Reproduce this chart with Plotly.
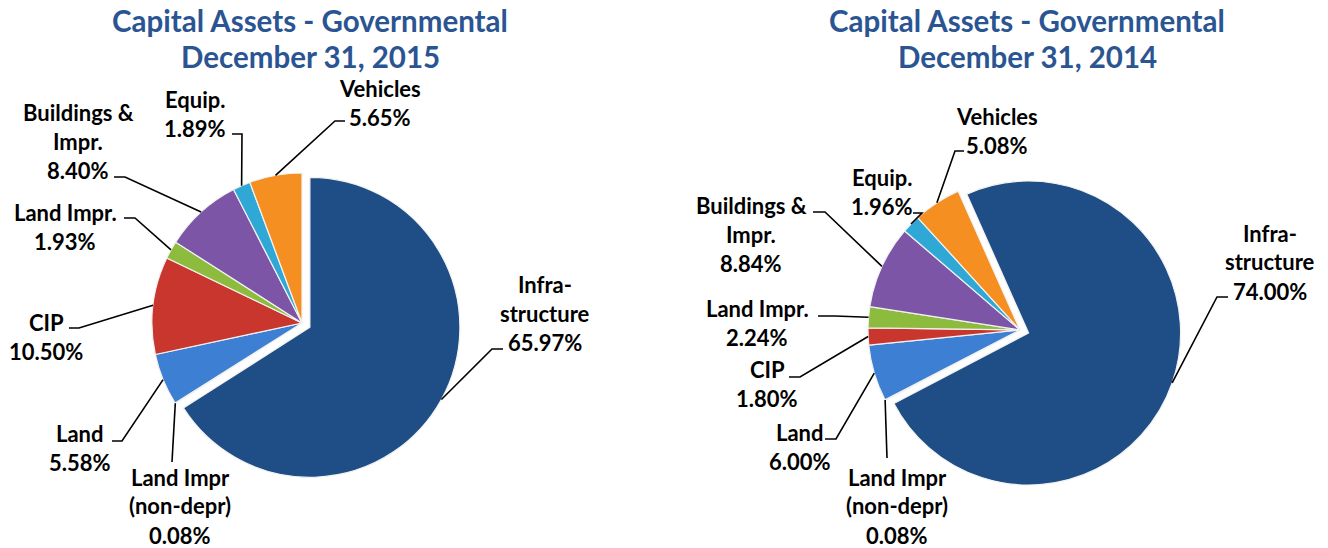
import math
import plotly.graph_objects as go

W, H = 1328, 548
OFF = 8  # page body margin offset (px)

# ---------------- data ----------------
categories = ["Infrastructure", "Land Impr (non-depr)", "Land", "CIP",
              "Land Impr.", "Buildings & Impr.", "Equip.", "Vehicles"]
label_lines = [["Infra-", "structure"], ["Land Impr", "(non-depr)"], ["Land"], ["CIP"],
               ["Land Impr."], ["Buildings &", "Impr."], ["Equip."], ["Vehicles"]]
values_2015 = [65.97, 0.08, 5.58, 10.50, 1.93, 8.40, 1.89, 5.65]
values_2014 = [74.00, 0.08, 6.00, 1.80, 2.24, 8.84, 1.96, 5.08]
titles = [["Capital Assets - Governmental", "December 31, 2015"],
          ["Capital Assets - Governmental", "December 31, 2014"]]

# ---------------- style / layout ----------------
colors = ["#1F4E86", "#B5553C", "#3D7FD3", "#C8362E", "#8DBB3E", "#7C55A7", "#30A8D6", "#F68F22"]
FONT = "Lato, Carlito, Calibri, sans-serif"
TITLE_COLOR = "#2A5592"
TITLE_SIZE = 29.5
LABEL_SIZE = 22
LINE_SP = 29

panels = [
    dict(values=values_2015, title=titles[0], cx=302, cy=323, r=150, pull=0.06, rot=0,
         title_x=310, title_y=[21, 57],
         labels=[
             dict(t=(545, 313), pts=[(503, 349), (492, 349)]),
             dict(t=(180, 506), pts=[(172, 462)]),
             dict(t=(80, 448), pts=[(112, 441), (122, 441)]),
             dict(t=(46, 337), pts=[(69, 328), (79, 328)]),
             dict(t=(65, 227), pts=[(124, 218), (135, 218)]),
             dict(t=(78, 141), pts=[(114, 177), (125, 177)]),
             dict(t=(195, 114), pts=[(232, 134), (242, 134)]),
             dict(t=(380, 103), pts=[(345, 121), (335, 121)]),
         ]),
    dict(values=values_2014, title=titles[1], cx=1020, cy=330, r=152, pull=0.06, rot=-24,
         title_x=1027, title_y=[21, 57],
         labels=[
             dict(t=(1270, 262), pts=[(1228, 297), (1217, 297)]),
             dict(t=(897, 506), pts=[(887, 458)]),
             dict(t=(800, 447), pts=[(825, 439), (836, 439)]),
             dict(t=(767, 384), pts=[(789, 377), (800, 377)]),
             dict(t=(757, 323), pts=[(818, 316), (835, 316)]),
             dict(t=(751, 234), pts=[(813, 212), (825, 212)]),
             dict(t=(882, 192), pts=[(913, 213), (922, 213)]),
             dict(t=(997, 131), pts=[(964, 151), (955, 151)]),
         ]),
]


def px2paper(x, y):
    return (x - OFF) / W, 1 - (y - OFF) / H


fig = go.Figure()
annotations = []
shapes = []

for p in panels:
    vals = p["values"]
    total = sum(vals)
    half = p["r"] * (1 + p["pull"])
    x0, y0 = px2paper(p["cx"] - half, p["cy"] + half)
    x1, y1 = px2paper(p["cx"] + half, p["cy"] - half)
    pulls = [p["pull"]] + [0] * (len(vals) - 1)
    fig.add_trace(go.Pie(
        values=vals, labels=categories, sort=False, direction="clockwise",
        rotation=p["rot"], pull=pulls,
        marker=dict(colors=colors, line=dict(color="#F2F2F2", width=1.2)),
        textinfo="none", showlegend=False,
        domain=dict(x=[x0, x1], y=[y0, y1]),
        hovertemplate="%{label}: %{value:.2f}%<extra></extra>",
    ))

    # titles
    for k, line in enumerate(p["title"]):
        tx, ty = px2paper(p["title_x"], p["title_y"][k])
        annotations.append(dict(x=tx, y=ty, xref="paper", yref="paper", text="<b>%s</b>" % line,
                                showarrow=False, xanchor="center", yanchor="middle",
                                font=dict(family=FONT, size=TITLE_SIZE, color=TITLE_COLOR)))

    # labels & leader lines
    cum = 0.0
    for i, v in enumerate(vals):
        mid = math.radians(p["rot"] + 360.0 * (cum + v / 2) / total)
        cum += v
        reff = p["r"] * (1 + pulls[i])
        ex = p["cx"] + reff * math.sin(mid)
        ey = p["cy"] - reff * math.cos(mid)
        lab = p["labels"][i]
        lines = label_lines[i] + ["%.2f%%" % v]
        n = len(lines)
        for k, line in enumerate(lines):
            ly = lab["t"][1] + (k - (n - 1) / 2) * LINE_SP
            ax, ay = px2paper(lab["t"][0], ly)
            annotations.append(dict(x=ax, y=ay, xref="paper", yref="paper", text="<b>%s</b>" % line,
                                    showarrow=False, xanchor="center", yanchor="middle",
                                    font=dict(family=FONT, size=LABEL_SIZE, color="#000000")))
        pts = list(lab["pts"]) + [(ex, ey)]
        path = ""
        for j, (qx, qy) in enumerate(pts):
            a, b = px2paper(qx, qy)
            path += ("M" if j == 0 else " L") + " %.5f,%.5f" % (a, b)
        shapes.append(dict(type="path", path=path, xref="paper", yref="paper",
                           line=dict(color="#000000", width=1.6)))

fig.update_layout(
    width=W, height=H, margin=dict(l=0, r=0, t=0, b=0),
    paper_bgcolor="white", plot_bgcolor="white",
    annotations=annotations, shapes=shapes,
)

fig.write_html("out.html")
